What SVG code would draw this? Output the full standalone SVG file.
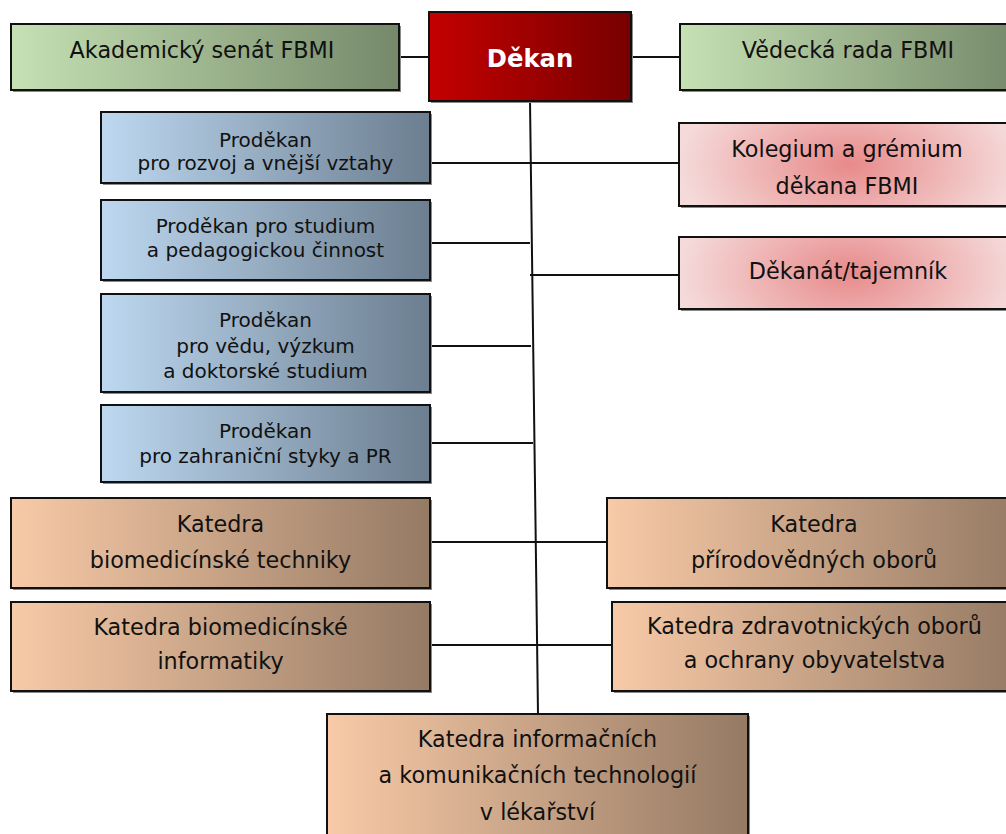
<svg xmlns="http://www.w3.org/2000/svg" width="1006" height="834" viewBox="0 0 1006 834">
<defs>
<linearGradient id="gGreen" x1="0" y1="0" x2="1" y2="0"><stop offset="0" stop-color="#c6e1b4"/><stop offset="1" stop-color="#75896a"/></linearGradient>
<linearGradient id="gRed" x1="0" y1="0" x2="1" y2="0"><stop offset="0" stop-color="#c40000"/><stop offset="1" stop-color="#780000"/></linearGradient>
<linearGradient id="gBlue" x1="0" y1="0" x2="1" y2="0"><stop offset="0" stop-color="#bdd8f0"/><stop offset="1" stop-color="#6c7e90"/></linearGradient>
<linearGradient id="gTan" x1="0" y1="0" x2="1" y2="0"><stop offset="0" stop-color="#f8caa7"/><stop offset="1" stop-color="#957a64"/></linearGradient>
<radialGradient id="gPink" cx="0.5" cy="0.5" r="0.5" gradientTransform="translate(0.5 0.5) scale(1 2.2) translate(-0.5 -0.5)"><stop offset="0" stop-color="#e88a8a"/><stop offset="1" stop-color="#f5dada"/></radialGradient>
<radialGradient id="gPink2" cx="0.5" cy="0.5" r="0.5" gradientTransform="translate(0.5 0.5) scale(1 2.6) translate(-0.5 -0.5)"><stop offset="0" stop-color="#e88a8a"/><stop offset="1" stop-color="#f5dada"/></radialGradient>
</defs>
<style>
.box{stroke:#111;stroke-width:2}
.sh{fill:#8a8a8a}
text{font-family:"DejaVu Sans","Liberation Sans",sans-serif;fill:#111;text-anchor:middle}
.t22{font-size:22.3px}
.t19{font-size:20px}
.dk{font-size:24.3px;font-weight:bold;fill:#fff}
.ln{stroke:#111;stroke-width:2;fill:none}
</style>
<g id="connectors">
<line class="ln" x1="530" y1="101" x2="538" y2="714"/>
<line class="ln" x1="399" y1="57" x2="429" y2="57"/>
<line class="ln" x1="631" y1="57" x2="680" y2="57"/>
<line class="ln" x1="430" y1="163" x2="679" y2="163"/>
<line class="ln" x1="430" y1="243" x2="530" y2="243"/>
<line class="ln" x1="530" y1="275" x2="679" y2="275"/>
<line class="ln" x1="430" y1="346" x2="531" y2="346"/>
<line class="ln" x1="430" y1="443" x2="533" y2="443"/>
<line class="ln" x1="430" y1="542" x2="607" y2="542"/>
<line class="ln" x1="430" y1="645" x2="612" y2="645"/>
</g>
<g id="senat">
<rect class="sh" x="13" y="26" width="388" height="66"/>
<rect class="box" x="11" y="24" width="388" height="66" fill="url(#gGreen)"/>
<text class="t22" x="202" y="58">Akademický senát FBMI</text>
</g>
<g id="dekan">
<rect class="sh" x="431" y="14" width="202" height="89"/>
<rect class="box" x="429" y="12" width="202" height="89" fill="url(#gRed)"/>
<text class="dk" x="530" y="66.5">Děkan</text>
</g>
<g id="vedecka-rada">
<rect class="sh" x="682" y="26" width="340" height="66"/>
<rect class="box" x="680" y="24" width="340" height="66" fill="url(#gGreen)"/>
<text class="t22" x="848" y="58">Vědecká rada FBMI</text>
</g>
<g id="prodekan-rozvoj">
<rect class="sh" x="103" y="114" width="329" height="71"/>
<rect class="box" x="101" y="112" width="329" height="71" fill="url(#gBlue)"/>
<text class="t19" x="265.5" y="146.5">Proděkan</text>
<text class="t19" x="265.5" y="169.5">pro rozvoj a vnější vztahy</text>
</g>
<g id="prodekan-studium">
<rect class="sh" x="103" y="202" width="329" height="80"/>
<rect class="box" x="101" y="200" width="329" height="80" fill="url(#gBlue)"/>
<text class="t19" x="265.5" y="233">Proděkan pro studium</text>
<text class="t19" x="265.5" y="257">a pedagogickou činnost</text>
</g>
<g id="prodekan-veda">
<rect class="sh" x="103" y="296" width="329" height="98"/>
<rect class="box" x="101" y="294" width="329" height="98" fill="url(#gBlue)"/>
<text class="t19" x="265.5" y="326.7">Proděkan</text>
<text class="t19" x="265.5" y="352.5">pro vědu, výzkum</text>
<text class="t19" x="265.5" y="378">a doktorské studium</text>
</g>
<g id="prodekan-zahranici">
<rect class="sh" x="103" y="407" width="329" height="77"/>
<rect class="box" x="101" y="405" width="329" height="77" fill="url(#gBlue)"/>
<text class="t19" x="265.5" y="438.3">Proděkan</text>
<text class="t19" x="265.5" y="463.3">pro zahraniční styky a PR</text>
</g>
<g id="kolegium">
<rect class="sh" x="681" y="125" width="340" height="83"/>
<rect class="box" x="679" y="123" width="340" height="83" fill="url(#gPink)"/>
<text class="t22" x="847" y="156.7">Kolegium a grémium</text>
<text class="t22" x="847" y="194">děkana FBMI</text>
</g>
<g id="dekanat">
<rect class="sh" x="681" y="239" width="340" height="72"/>
<rect class="box" x="679" y="237" width="340" height="72" fill="url(#gPink2)"/>
<text class="t22" x="848" y="279.3">Děkanát/tajemník</text>
</g>
<g id="katedra-bmt">
<rect class="sh" x="13" y="500" width="419" height="90"/>
<rect class="box" x="11" y="498" width="419" height="90" fill="url(#gTan)"/>
<text class="t22" x="220.5" y="531.7">Katedra</text>
<text class="t22" x="220.5" y="568.3">biomedicínské techniky</text>
</g>
<g id="katedra-prirodovednych">
<rect class="sh" x="609" y="500" width="415" height="90"/>
<rect class="box" x="607" y="498" width="415" height="90" fill="url(#gTan)"/>
<text class="t22" x="814" y="531.7">Katedra</text>
<text class="t22" x="814" y="568.3">přírodovědných oborů</text>
</g>
<g id="katedra-bmi">
<rect class="sh" x="13" y="604" width="419" height="89"/>
<rect class="box" x="11" y="602" width="419" height="89" fill="url(#gTan)"/>
<text class="t22" x="220.5" y="634.5">Katedra biomedicínské</text>
<text class="t22" x="220.5" y="668.5">informatiky</text>
</g>
<g id="katedra-zdravotnickych">
<rect class="sh" x="614" y="604" width="405" height="89"/>
<rect class="box" x="612" y="602" width="405" height="89" fill="url(#gTan)"/>
<text class="t22" x="814.5" y="634.3">Katedra zdravotnických oborů</text>
<text class="t22" x="814.5" y="668.3">a ochrany obyvatelstva</text>
</g>
<g id="katedra-ikt">
<rect class="sh" x="329" y="716" width="421" height="130"/>
<rect class="box" x="327" y="714" width="421" height="130" fill="url(#gTan)"/>
<text class="t22" x="537.5" y="747.3">Katedra informačních</text>
<text class="t22" x="537.5" y="783.3">a komunikačních technologií</text>
<text class="t22" x="537.5" y="820">v lékařství</text>
</g>
</svg>
